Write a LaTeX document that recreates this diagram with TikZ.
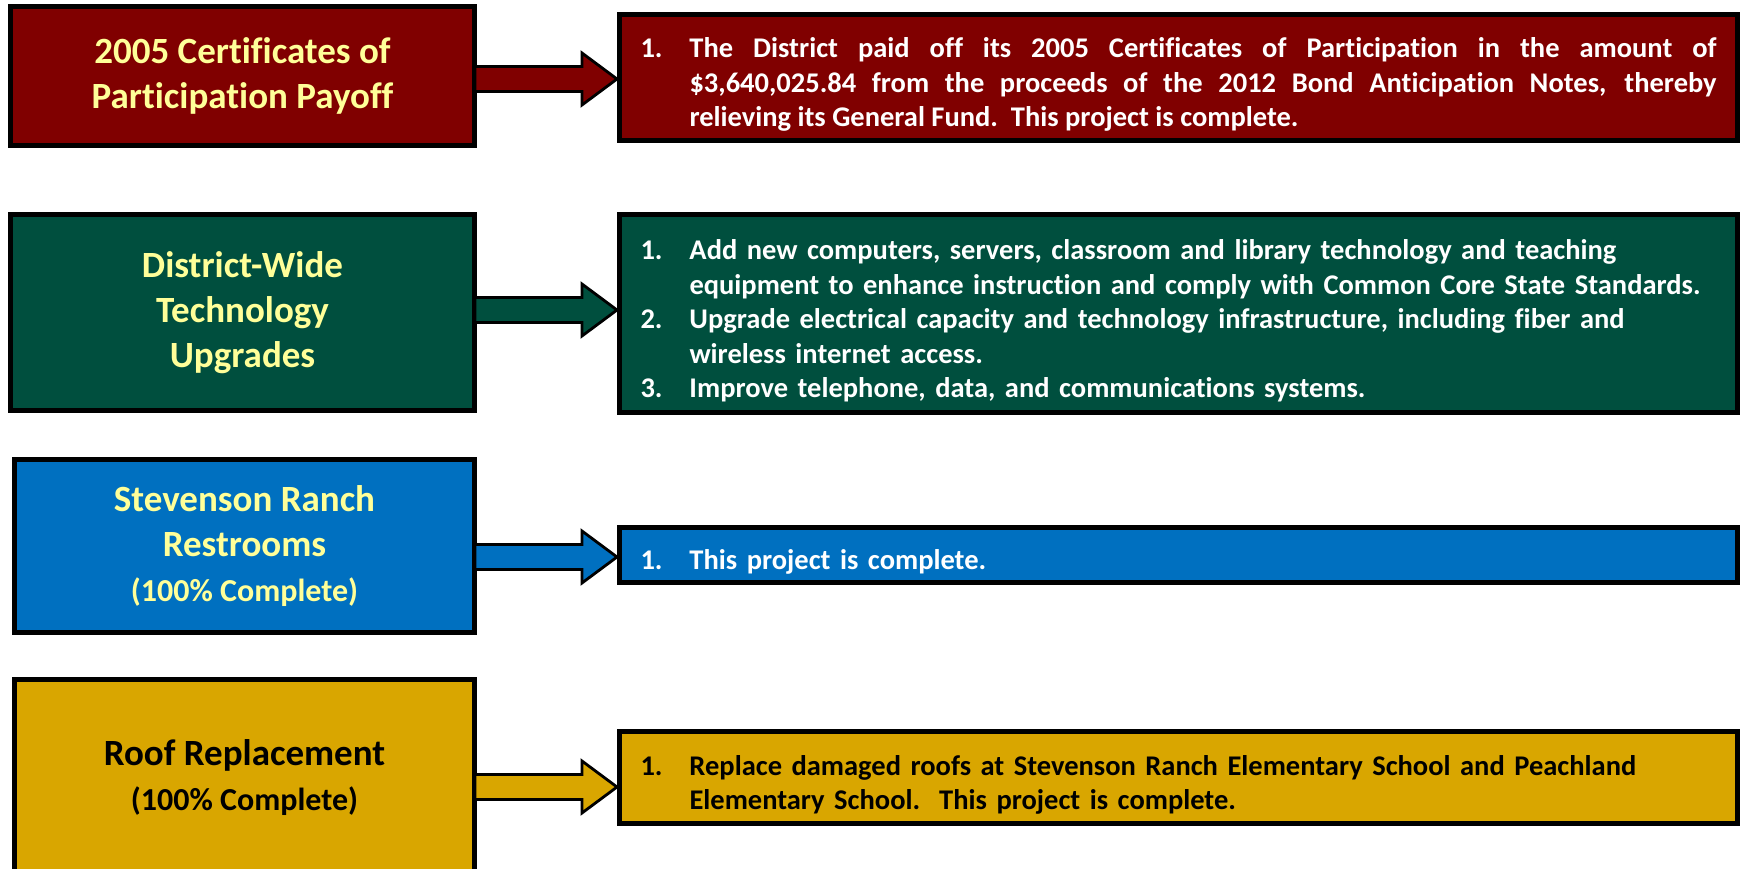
\documentclass[tikz,border=0pt]{standalone}
\usepackage{fontspec}
\setmainfont{Carlito}[Ligatures={NoCommon}]
\usetikzlibrary{calc}
\definecolor{cmaroon}{HTML}{800000}
\definecolor{cgreen}{HTML}{004F3E}
\definecolor{cblue}{HTML}{0070C0}
\definecolor{cgold}{HTML}{D9A600}
\definecolor{cyell}{HTML}{FFFF99}
\newcommand\itm[2]{\par\hangindent=49pt\hangafter=1\noindent\makebox[49pt][l]{#1}#2\par}
\tikzset{
  lbox/.style={draw=black, line width=5pt, inner sep=0pt, align=center,
    text=cyell, font=\fontsize{37}{45}\selectfont\bfseries},
  rbox/.style={draw=black, line width=5pt, inner xsep=0pt, inner ysep=0pt,
    minimum width=1118pt, text width=1076pt, text=white,
    font=\fontsize{28.5}{34.5}\selectfont\bfseries},
  barrow/.style={draw=black, line width=2.8pt, line join=miter}
}
\newcommand\blockarrow[4]{%
  \draw[barrow, fill=#4] let \p1=(#1.east |- #3), \p2=(#2.west |- #3) in
    (\x1-2pt,\y1+12.5pt) -- (\x2-35pt,\y1+12.5pt) -- (\x2-35pt,\y1+26pt) --
    (\x2,\y1) -- (\x2-35pt,\y1-26pt) -- (\x2-35pt,\y1-12.5pt) --
    (\x1-2pt,\y1-12.5pt) -- cycle;}
\begin{document}
\begin{tikzpicture}[x=1pt,y=-1pt]
\useasboundingbox (0,0) rectangle (1741,869);
\clip (0,0) rectangle (1741,869);
\fill[white] (0,0) rectangle (1741,869);

% left boxes
\node[lbox, fill=cmaroon, minimum width=464pt, minimum height=139pt] (l1) at (242.5,76)
  {2005 Certificates of\\Participation Payoff};
\node[lbox, fill=cgreen, minimum width=464pt, minimum height=196pt] (l2) at (242.5,312.5)
  {District-Wide\\Technology\\Upgrades};
\node[lbox, fill=cblue, minimum width=460pt, minimum height=173pt] (l3) at (244.5,546)
  {Stevenson Ranch\\Restrooms\\{\fontsize{32}{40}\selectfont (100\% Complete)}};
\node[lbox, text=black, fill=cgold, minimum width=460pt, minimum height=197pt] (l4) at (244.5,778)
  {Roof Replacement\\{\fontsize{32}{40}\selectfont (100\% Complete)}};

% right boxes
\node[rbox, fill=cmaroon, minimum height=126pt, align=justify] (r1) at (1178.5,77.5)
  {\itm{1.}{The District paid off its 2005 Certificates of Participation in the amount of\break
  \$3,640,025.84 from the proceeds of the 2012 Bond Anticipation Notes, thereby\break
  relieving its General Fund.\ \ This project is complete.}};
\node[rbox, fill=cgreen, minimum height=198pt, align=left] (r2) at (1178.5,313.5)
  {\itm{1.}{Add new computers, servers, classroom and library technology and teaching\hfil\break
  equipment to enhance instruction and comply with Common Core State Standards.}%
   \itm{2.}{Upgrade electrical capacity and technology infrastructure, including fiber and\hfil\break
  wireless internet access.}%
   \itm{3.}{Improve telephone, data, and communications systems.}};
\node[rbox, fill=cblue, minimum height=55pt, align=left] (r3) at (1178.5,555)
  {\itm{1.}{This project is complete.}};
\node[rbox, fill=cgold, text=black, minimum height=92pt, align=left] (r4) at (1178.5,777.5)
  {\itm{1.}{Replace damaged roofs at Stevenson Ranch Elementary School and Peachland\hfil\break
  Elementary School.\ \ This project is complete.}};

% arrow levels
\coordinate (y1) at (0,79);
\coordinate (y2) at (0,310);
\coordinate (y3) at (0,557);
\coordinate (y4) at (0,787);

\blockarrow{l1}{r1}{y1}{cmaroon}
\blockarrow{l2}{r2}{y2}{cgreen}
\blockarrow{l3}{r3}{y3}{cblue}
\blockarrow{l4}{r4}{y4}{cgold}
\end{tikzpicture}
\end{document}
